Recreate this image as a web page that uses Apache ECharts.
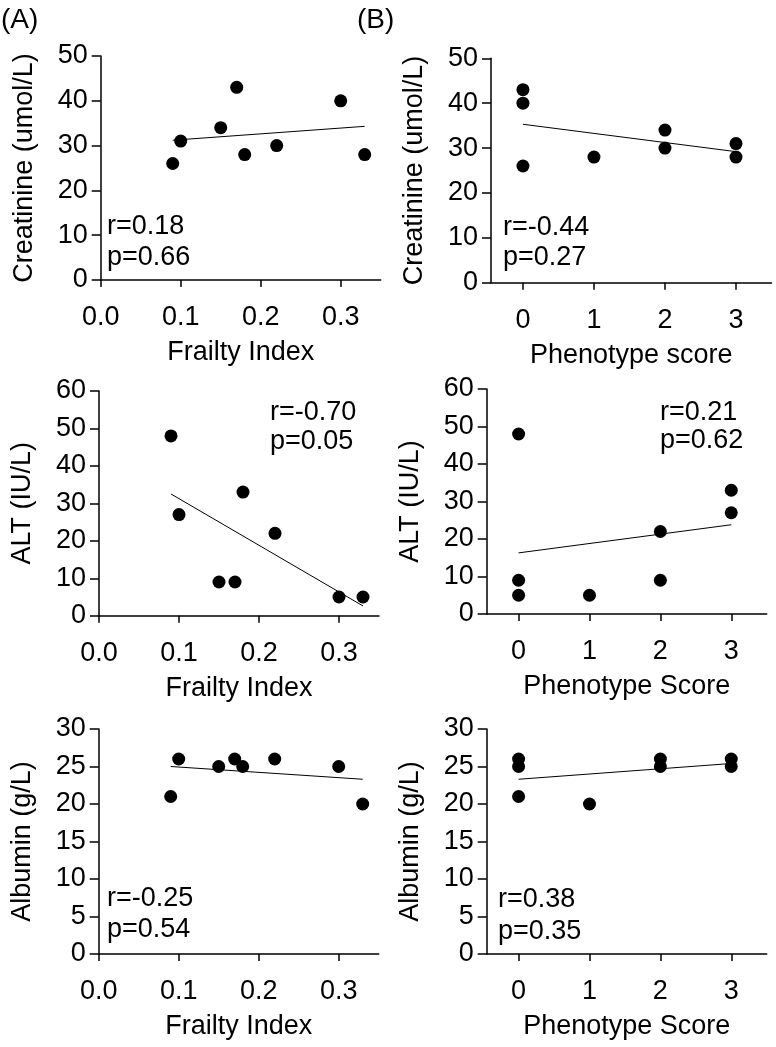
<!DOCTYPE html>
<html>
<head>
<meta charset="utf-8">
<style>
  html, body { margin: 0; padding: 0; background: #fff; }
  #main { width: 776px; height: 1047px; }
</style>
<script src="https://cdn.jsdelivr.net/npm/echarts@6.0.0/dist/echarts.min.js"></script>
</head>
<body>
<div id="main"></div>
<script>
// x values shared by the panels
const frailty = [0.09, 0.10, 0.15, 0.17, 0.18, 0.22, 0.30, 0.33]
const phenotype = [0, 0, 0, 1, 2, 2, 3, 3]

// y values
const creatFI = [26, 31, 34, 43, 28, 30, 40, 28]
const creatPS = [43, 40, 26, 28, 34, 30, 31, 28]
const altFI = [48, 27, 9, 9, 33, 22, 5, 5]
const altPS = [48, 9, 5, 5, 22, 9, 33, 27]
const albFI = [21, 26, 25, 26, 25, 26, 25, 20]
const albPS = [26, 25, 21, 20, 26, 25, 26, 25]

// regression line end points
const fitCreatFI = [[0.09, 31.2], [0.33, 34.3]]
const fitCreatPS = [[0, 35.3], [3, 29.2]]
const fitAltFI = [[0.09, 32.5], [0.33, 2.6]]
const fitAltPS = [[0, 16.3], [3, 23.8]]
const fitAlbFI = [[0.09, 25.0], [0.33, 23.3]]
const fitAlbPS = [[0, 23.3], [3, 25.4]]

// tick labels
const fiTicks = [0, 0.1, 0.2, 0.3]
const psTicks = [0, 1, 2, 3]

const stats = [
  ['r=0.18', 'p=0.66'], ['r=-0.44', 'p=0.27'],
  ['r=-0.70', 'p=0.05'], ['r=0.21', 'p=0.62'],
  ['r=-0.25', 'p=0.54'], ['r=0.38', 'p=0.35']
]

const FONT = 'Liberation Sans, Arial, sans-serif'
const FS = 27

const panels = [
  { grid: { left: 100.7, top: 56, width: 280, height: 224 }, x: frailty, y: creatFI, fit: fitCreatFI, fi: true,
    xName: 'Frailty Index', yName: 'Creatinine (umol/L)', yMax: 50, yInt: 10, stat: [107, 227, 258] },
  { grid: { left: 491, top: 58.3, width: 280.5, height: 224.4 }, x: phenotype, y: creatPS, fit: fitCreatPS, fi: false,
    xName: 'Phenotype score', yName: 'Creatinine (umol/L)', yMax: 50, yInt: 10, stat: [503, 228, 258] },
  { grid: { left: 99, top: 391, width: 280, height: 224.7 }, x: frailty, y: altFI, fit: fitAltFI, fi: true,
    xName: 'Frailty Index', yName: 'ALT (IU/L)', yMax: 60, yInt: 10, stat: [270, 413, 442] },
  { grid: { left: 486.7, top: 389, width: 280, height: 225 }, x: phenotype, y: altPS, fit: fitAltPS, fi: false,
    xName: 'Phenotype Score', yName: 'ALT (IU/L)', yMax: 60, yInt: 10, stat: [660, 413, 441] },
  { grid: { left: 98.7, top: 729, width: 280, height: 225 }, x: frailty, y: albFI, fit: fitAlbFI, fi: true,
    xName: 'Frailty Index', yName: 'Albumin (g/L)', yMax: 30, yInt: 5, stat: [107, 899, 930] },
  { grid: { left: 486.7, top: 729, width: 280, height: 225 }, x: phenotype, y: albPS, fit: fitAlbPS, fi: false,
    xName: 'Phenotype Score', yName: 'Albumin (g/L)', yMax: 30, yInt: 5, stat: [498, 900, 932] }
]

const lineStyle = { color: '#000', width: 1.5 }
const textStyle = { color: '#000', fontFamily: FONT, fontSize: FS }

const grids = [], xAxes = [], yAxes = [], series = [], graphic = []

panels.forEach((p, i) => {
  grids.push(p.grid)
  xAxes.push({
    gridIndex: i,
    type: 'value',
    min: p.fi ? 0 : -0.45,
    max: p.fi ? 0.35 : 3.5,
    name: p.xName,
    nameLocation: 'middle',
    nameGap: 59,
    nameTextStyle: textStyle,
    axisLine: { onZero: false, lineStyle: lineStyle },
    axisTick: { length: 7, customValues: p.fi ? fiTicks : psTicks, lineStyle: lineStyle },
    axisLabel: {
      ...textStyle,
      margin: 24,
      customValues: p.fi ? fiTicks : psTicks,
      formatter: v => p.fi ? v.toFixed(1) : String(v)
    },
    splitLine: { show: false }
  })
  yAxes.push({
    gridIndex: i,
    type: 'value',
    min: 0,
    max: p.yMax,
    interval: p.yInt,
    name: p.yName,
    nameLocation: 'middle',
    nameGap: 63,
    nameTextStyle: textStyle,
    axisLine: { show: true, onZero: false, lineStyle: lineStyle },
    axisTick: { show: true, length: 9, lineStyle: lineStyle },
    axisLabel: { ...textStyle, margin: 13 },
    splitLine: { show: false }
  })
  series.push({
    type: 'scatter',
    xAxisIndex: i,
    yAxisIndex: i,
    symbolSize: 13,
    itemStyle: { color: '#000', opacity: 1 },
    data: p.x.map((v, k) => [v, p.y[k]]),
    z: 3
  })
  series.push({
    type: 'line',
    xAxisIndex: i,
    yAxisIndex: i,
    symbol: 'none',
    lineStyle: { color: '#000', width: 1 },
    data: p.fit,
    z: 2
  })
  graphic.push({ type: 'text', x: p.stat[0], y: p.stat[1],
    style: { text: stats[i][0], fill: '#000', font: FS + 'px ' + FONT, verticalAlign: 'middle' } })
  graphic.push({ type: 'text', x: p.stat[0], y: p.stat[2],
    style: { text: stats[i][1], fill: '#000', font: FS + 'px ' + FONT, verticalAlign: 'middle' } })
})

graphic.push({ type: 'text', x: 1, y: 20,
  style: { text: '(A)', fill: '#000', font: '28px ' + FONT, verticalAlign: 'middle' } })
graphic.push({ type: 'text', x: 357, y: 20,
  style: { text: '(B)', fill: '#000', font: '28px ' + FONT, verticalAlign: 'middle' } })

const chart = echarts.init(document.getElementById('main'), null, { renderer: 'canvas' })
chart.setOption({
  backgroundColor: '#fff',
  animation: false,
  grid: grids,
  xAxis: xAxes,
  yAxis: yAxes,
  series: series,
  graphic: graphic
})
</script>
</body>
</html>
